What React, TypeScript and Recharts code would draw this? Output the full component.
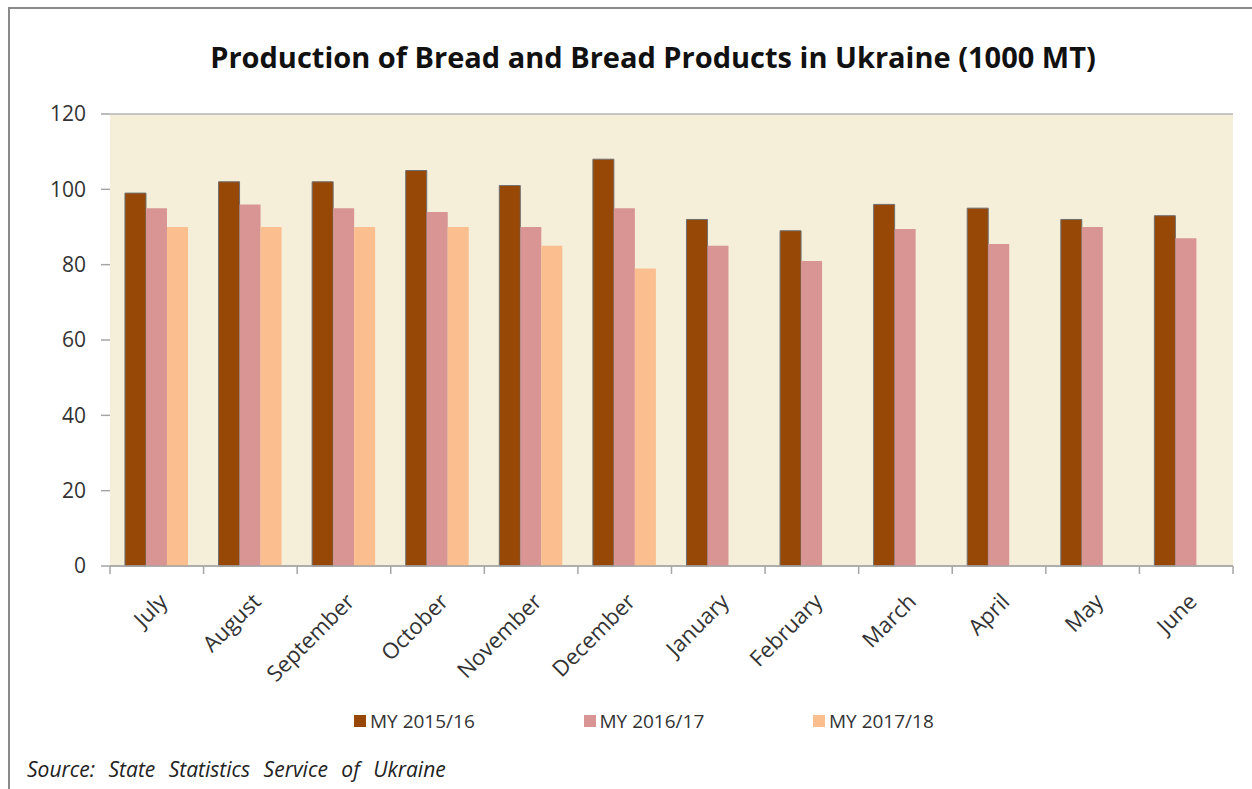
import React from 'react';
import { BarChart, Bar, XAxis, YAxis, CartesianGrid, Legend } from 'recharts';

const months = ['July', 'August', 'September', 'October', 'November', 'December', 'January', 'February', 'March', 'April', 'May', 'June'];
const my1516 = [99, 102, 102, 105, 101, 108, 92, 89, 96, 95, 92, 93];
const my1617 = [95, 96, 95, 94, 90, 95, 85, 81, 89.5, 85.5, 90, 87];
const my1718: (number | null)[] = [90, 90, 90, 90, 85, 79, null, null, null, null, null, null];
const seriesNames = ['MY 2015/16', 'MY 2016/17', 'MY 2017/18'];
const seriesColors = ['#974706', '#D99594', '#FBBF8F'];
const yTicks = [0, 20, 40, 60, 80, 100, 120];

const data = months.map((m, i) => ({ month: m, s1: my1516[i], s2: my1617[i], s3: my1718[i] }));

const W = 1252;
const H = 789;
const M = { top: 114, right: 19, left: 0, bottom: 63 };
const YW = 110;
const STEP = (W - YW - M.right) / months.length;
const FONT = '"Open Sans", sans-serif';

const XTick = (props: any) => {
  const { x, y, payload, index } = props;
  return (
    <g>
      <line x1={x - STEP / 2} x2={x - STEP / 2} y1={y} y2={y + 8} stroke="#A6A6A6" strokeWidth={1.5} />
      {index === months.length - 1 && (
        <line x1={x + STEP / 2} x2={x + STEP / 2} y1={y} y2={y + 8} stroke="#A6A6A6" strokeWidth={1.5} />
      )}
      <g transform={`translate(${x + 12},${y + 37}) rotate(-45)`}>
        <text x={0} y={0} textAnchor="end" fill="#333" fontSize={22} fontFamily={FONT}>
          {payload.value}
        </text>
      </g>
    </g>
  );
};

const LegendContent = (props: any) => {
  const { payload } = props;
  return (
    <div style={{ position: 'relative', height: 30, width: W }}>
      {(payload || []).map((p: any, i: number) => (
        <div
          key={i}
          style={{
            position: 'absolute',
            left: 354 + i * 229.5,
            top: 0,
            display: 'flex',
            alignItems: 'center',
            fontFamily: FONT,
            fontSize: 19,
            color: '#333',
            whiteSpace: 'nowrap',
          }}
        >
          <span style={{ display: 'inline-block', width: 12, height: 12, background: p.color, marginRight: 4 }} />
          {p.value}
        </div>
      ))}
    </div>
  );
};

export default function App() {
  return (
    <div style={{ position: 'absolute', left: 0, top: 0, width: W, height: H, background: '#fff', overflow: 'hidden' }}>
      <div
        style={{
          position: 'absolute',
          left: 8,
          top: 7,
          width: W,
          height: H,
          borderLeft: '2px solid #8a8a8a',
          borderTop: '2px solid #8a8a8a',
        }}
      />
      <div
        style={{
          position: 'absolute',
          left: 0,
          top: 37,
          width: 1306,
          textAlign: 'center',
          fontFamily: FONT,
          fontWeight: 700,
          fontSize: 29,
          color: '#111',
          whiteSpace: 'nowrap',
        }}
      >
        Production of Bread and Bread Products in Ukraine (1000 MT)
      </div>
      <div style={{ position: 'absolute', left: 0, top: 0 }}>
        <BarChart width={W} height={H} data={data} margin={M} barCategoryGap="16%" barGap={0}>
          <CartesianGrid vertical={false} stroke="#B5B5B5" strokeWidth={1.5} fill="#F5EED8" />
          <XAxis
            dataKey="month"
            interval={0}
            height={130}
            tick={<XTick />}
            tickLine={false}
            tickSize={0}
            tickMargin={0}
            axisLine={{ stroke: '#A6A6A6', strokeWidth: 1.5 }}
          />
          <YAxis
            yAxisId="left"
            width={YW}
            domain={[0, 120]}
            ticks={yTicks}
            interval={0}
            tickSize={9}
            tickMargin={15}
            tickLine={{ stroke: '#A6A6A6', strokeWidth: 1.5 }}
            axisLine={false}
            tick={{ fill: '#333', fontSize: 21, fontFamily: FONT }}
          />
          <YAxis
            yAxisId="right"
            orientation="right"
            width={0}
            domain={[0, 120]}
            tick={false}
            tickLine={false}
            axisLine={{ stroke: '#A6A6A6', strokeWidth: 2 }}
          />
          <Legend content={<LegendContent />} wrapperStyle={{ top: 708, left: 0, width: W }} />
          <Bar yAxisId="left" dataKey="s1" name={seriesNames[0]} fill={seriesColors[0]} stroke="#6f6f6f" strokeWidth={1} isAnimationActive={false} />
          <Bar yAxisId="left" dataKey="s2" name={seriesNames[1]} fill={seriesColors[1]} isAnimationActive={false} />
          <Bar yAxisId="left" dataKey="s3" name={seriesNames[2]} fill={seriesColors[2]} isAnimationActive={false} />
        </BarChart>
      </div>
      <div
        style={{
          position: 'absolute',
          left: 27,
          top: 755,
          fontFamily: FONT,
          fontStyle: 'italic',
          fontSize: 21,
          color: '#222',
          wordSpacing: 8,
          whiteSpace: 'nowrap',
        }}
      >
        Source: State Statistics Service of Ukraine
      </div>
    </div>
  );
}
